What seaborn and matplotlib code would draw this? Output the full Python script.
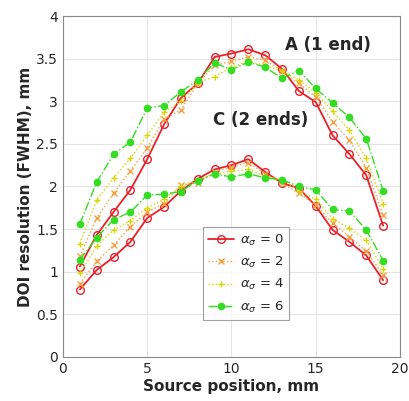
import numpy as np
import pandas as pd
import matplotlib
matplotlib.use("Agg")
import matplotlib.pyplot as plt
import seaborn as sns

# source positions (mm)
pos = list(range(1, 20))

# curve A (1 end), one list per alpha_sigma
a0 = [1.06, 1.43, 1.70, 1.96, 2.32, 2.73, 3.04, 3.21, 3.52, 3.56, 3.61, 3.54, 3.38, 3.12, 2.99, 2.60, 2.38, 2.13, 1.54]
a2 = [1.18, 1.63, 1.92, 2.18, 2.45, 2.79, 2.90, 3.21, 3.42, 3.47, 3.52, 3.48, 3.36, 3.21, 3.05, 2.76, 2.54, 2.22, 1.66]
a4 = [1.33, 1.84, 2.10, 2.33, 2.60, 2.87, 3.00, 3.22, 3.29, 3.40, 3.47, 3.42, 3.35, 3.25, 3.10, 2.88, 2.66, 2.33, 1.80]
a6 = [1.56, 2.05, 2.38, 2.52, 2.92, 2.95, 3.11, 3.25, 3.45, 3.37, 3.46, 3.40, 3.27, 3.36, 3.15, 2.98, 2.81, 2.56, 1.95]

# curve C (2 ends)
c0 = [0.79, 1.02, 1.17, 1.35, 1.63, 1.76, 1.95, 2.09, 2.20, 2.25, 2.32, 2.17, 2.04, 1.98, 1.77, 1.49, 1.35, 1.19, 0.90]
c2 = [0.86, 1.12, 1.31, 1.53, 1.70, 1.80, 2.02, 2.04, 2.17, 2.23, 2.28, 2.15, 2.04, 1.92, 1.78, 1.57, 1.41, 1.24, 0.96]
c4 = [0.98, 1.30, 1.49, 1.60, 1.75, 1.85, 2.00, 2.08, 2.14, 2.18, 2.20, 2.12, 2.08, 1.95, 1.85, 1.62, 1.51, 1.37, 1.03]
c6 = [1.14, 1.40, 1.61, 1.70, 1.90, 1.91, 1.94, 2.07, 2.15, 2.11, 2.15, 2.10, 2.08, 2.00, 1.96, 1.73, 1.71, 1.49, 1.13]

alphas = [0, 2, 4, 6]
colors = ["#e8202a", "#f7a040", "#d8d800", "#33dd22"]
markers = ["o", "x", "+", "o"]
styles = ["-", ":", ":", "-."]

sns.set_style("whitegrid")
fig = plt.figure(figsize=(4.09, 4.01), dpi=100)
ax = fig.add_axes([0.154, 0.110, 0.824, 0.850])

for i, (ya, yc) in enumerate(zip([a0, a2, a4, a6], [c0, c2, c4, c6])):
    filled = i == 3
    kw = dict(color=colors[i], marker=markers[i], linestyle=styles[i],
              linewidth=1.3 if i == 0 else 1.0,
              markersize=[5.5, 4.5, 5, 4.5][i],
              markerfacecolor=colors[i] if filled else "none",
              markeredgecolor=colors[i], markeredgewidth=1.0)
    sns.lineplot(x=pos, y=ya, ax=ax, label=r"$\alpha_\sigma$ = %d" % alphas[i], **kw)
    sns.lineplot(x=pos, y=yc, ax=ax, **kw)

ax.set_xlim(0, 20)
ax.set_ylim(0, 4)
ax.set_xticks([0, 5, 10, 15, 20])
ax.set_yticks(np.arange(0, 4.01, 0.5))
ax.set_yticklabels(["0", "0.5", "1", "1.5", "2", "2.5", "3", "3.5", "4"])
ax.tick_params(direction="in", labelsize=10, length=3)
ax.grid(color="#e4e4e4", linewidth=0.8)
for s in ax.spines.values():
    s.set_color("#888888")
    s.set_linewidth(0.8)

ax.set_xlabel("Source position, mm", fontsize=11, fontweight="bold", labelpad=2)
ax.set_ylabel("DOI resolution (FWHM), mm", fontsize=11, fontweight="bold", labelpad=2)

ax.text(15.7, 3.66, "A (1 end)", fontsize=12, fontweight="bold", ha="center", va="center")
ax.text(11.7, 2.78, "C (2 ends)", fontsize=12, fontweight="bold", ha="center", va="center")

leg = ax.legend(loc="upper left", bbox_to_anchor=(0.395, 0.40), fontsize=9.5,
                frameon=True, fancybox=False, edgecolor="#888888",
                handlelength=2.0, handletextpad=0.4, borderpad=0.4,
                labelspacing=0.55)
leg.get_frame().set_linewidth(0.8)

fig.savefig("out.png", dpi=100)
